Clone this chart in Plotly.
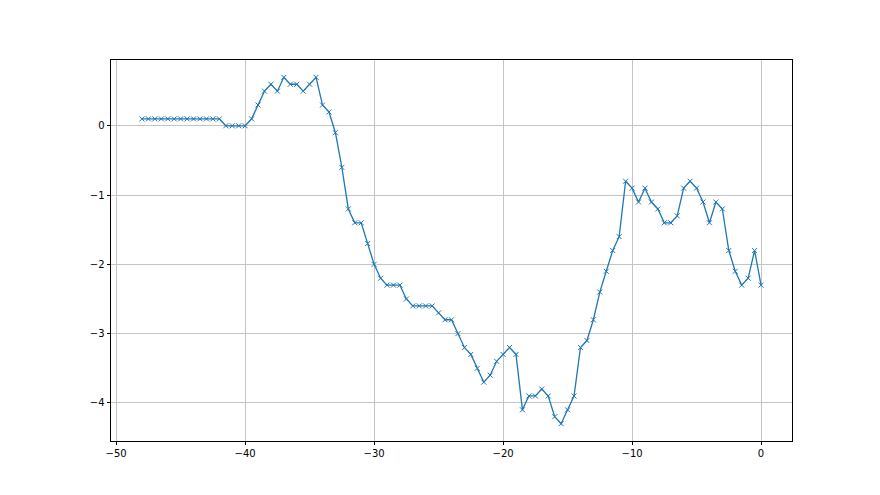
import plotly.graph_objects as go

x_vals = [-48, -47.5, -47, -46.5, -46, -45.5, -45, -44.5, -44, -43.5, -43, -42.5, -42,
          -41.5, -41, -40.5, -40,
          -39.5, -39, -38.5, -38, -37.5, -37, -36.5, -36, -35.5, -35, -34.5, -34,
          -33.5, -33, -32.5, -32, -31.5, -31, -30.5, -30,
          -29.5, -29, -28.5, -28, -27.5, -27, -26.5, -26, -25.5, -25, -24.5, -24,
          -23.5, -23, -22.5, -22, -21.5, -21, -20.5, -20,
          -19.5, -19, -18.5, -18, -17.5, -17, -16.5, -16, -15.5, -15, -14.5, -14,
          -13.5, -13, -12.5, -12, -11.5, -11, -10.5, -10,
          -9.5, -9, -8.5, -8, -7.5, -7, -6.5, -6, -5.5, -5, -4.5, -4,
          -3.5, -3, -2.5, -2, -1.5, -1, -0.5, 0]

y_vals = [0.1, 0.1, 0.1, 0.1, 0.1, 0.1, 0.1, 0.1, 0.1, 0.1, 0.1, 0.1, 0.1,
          0.0, 0.0, 0.0, 0.0,
          0.1, 0.3, 0.5, 0.6, 0.5, 0.7, 0.6, 0.6, 0.5, 0.6, 0.7, 0.3,
          0.2, -0.1, -0.6, -1.2, -1.4, -1.4, -1.7, -2.0,
          -2.2, -2.3, -2.3, -2.3, -2.5, -2.6, -2.6, -2.6, -2.6, -2.7, -2.8, -2.8,
          -3.0, -3.2, -3.3, -3.5, -3.7, -3.6, -3.4, -3.3,
          -3.2, -3.3, -4.1, -3.9, -3.9, -3.8, -3.9, -4.2, -4.3, -4.1, -3.9, -3.2,
          -3.1, -2.8, -2.4, -2.1, -1.8, -1.6, -0.8, -0.9,
          -1.1, -0.9, -1.1, -1.2, -1.4, -1.4, -1.3, -0.9, -0.8, -0.9, -1.1, -1.4,
          -1.1, -1.2, -1.8, -2.1, -2.3, -2.2, -1.8, -2.3]

x_ticks = [-50, -40, -30, -20, -10, 0]
y_ticks = [-4, -3, -2, -1, 0]

fig = go.Figure()
fig.add_trace(go.Scatter(
    x=x_vals, y=y_vals, mode="lines+markers",
    line=dict(color="#1f77b4", width=1.3),
    marker=dict(symbol="x-thin", size=5, line=dict(color="#1f77b4", width=1)),
    showlegend=False,
))

axis_common = dict(
    showgrid=True, gridcolor="#c4c4c4", gridwidth=0.8,
    showline=True, linecolor="black", linewidth=0.8, mirror=True,
    ticks="outside", ticklen=3.5, tickwidth=0.8, tickcolor="black",
    zeroline=False,
    tickfont=dict(family="DejaVu Sans", size=10, color="black"),
)

fig.update_xaxes(range=[-50.4, 2.4], tickvals=x_ticks, **axis_common)
fig.update_yaxes(range=[-4.55, 0.95], tickvals=y_ticks, **axis_common)

fig.update_layout(
    width=872, height=487,
    margin=dict(l=103, r=88, t=52, b=54),
    plot_bgcolor="white", paper_bgcolor="white",
)

fig.write_html("out.html")
